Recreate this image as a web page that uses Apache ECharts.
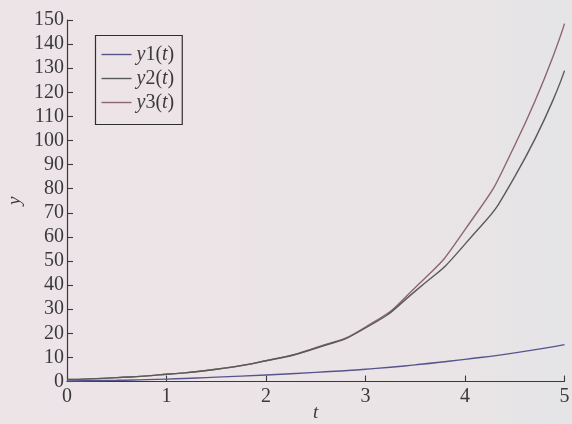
<!DOCTYPE html>
<html>
<head>
<meta charset="utf-8">
<script src="https://cdn.jsdelivr.net/npm/echarts@6/dist/echarts.min.js"></script>
<style>
  html, body { margin: 0; padding: 0; }
  #chart { width: 572px; height: 424px; }
</style>
</head>
<body>
<div id="chart"></div>
<script>
// Solution samples of the three components on 0 <= t <= 5
const tValues = [0, 0.5, 1, 1.5, 2, 2.5, 3, 3.5, 4, 4.5, 5];
const y1Values = [0.2, 0.5, 1.0, 1.8, 2.7, 3.8, 5.1, 6.9, 9.2, 11.9, 15.3];
const y2Values = [0.8, 1.6, 3.0, 5.1, 8.6, 13.8, 22.2, 37.5, 57, 85, 129];
const y3Values = [0.8, 1.6, 3.0, 5.1, 8.6, 14.0, 22.6, 39, 63, 98, 148.5];

const seriesNames = ['y1', 'y2', 'y3'];
const seriesColors = ['#55558c', '#585b59', '#8c6670'];
const xTicks = [0, 1, 2, 3, 4, 5];
const yTickStep = 10;

const serif = '"Liberation Serif", "DejaVu Serif", serif';
const ink = '#3a3a3c';

function pairs(ys) {
  return tValues.map((t, i) => [t, ys[i]]);
}

const chart = echarts.init(document.getElementById('chart'), null, { renderer: 'canvas' });

const allValues = [y1Values, y2Values, y3Values];

chart.setOption({
  backgroundColor: {
    type: 'linear', x: 0, y: 0, x2: 1, y2: 0,
    colorStops: [
      { offset: 0, color: '#ede4e8' },
      { offset: 0.7, color: '#ebe4e7' },
      { offset: 1, color: '#e5e4e6' }
    ]
  },
  animation: false,
  grid: {
    left: 67, right: 7.5, top: 20, bottom: 42.5,
    containLabel: false,
    outerBoundsMode: 'none'
  },
  legend: {
    orient: 'vertical',
    left: 95.5,
    top: 35.5,
    padding: [7, 8, 10, 6],
    itemGap: 0,
    itemWidth: 30,
    itemHeight: 1.4,
    icon: 'rect',
    borderColor: '#2e2e30',
    borderWidth: 1.2,
    data: seriesNames,
    formatter: name => '{i|y}{n|' + name.slice(1) + '(}{i|t}{n|)}',
    textStyle: {
      color: ink,
      lineHeight: 24,
      rich: {
        i: { fontFamily: serif, fontStyle: 'italic', fontSize: 20, color: ink, lineHeight: 24 },
        n: { fontFamily: serif, fontSize: 20, color: ink, lineHeight: 24 }
      }
    }
  },
  xAxis: {
    type: 'value',
    min: 0,
    max: 5,
    interval: 1,
    name: 't',
    nameLocation: 'middle',
    nameGap: 22,
    nameMoveOverlap: false,
    nameTextStyle: { fontFamily: serif, fontStyle: 'italic', fontSize: 19, color: ink },
    axisLine: { show: true, lineStyle: { color: ink, width: 1.2 } },
    axisTick: { show: true, inside: true, length: 6, lineStyle: { color: ink, width: 1.1 } },
    axisLabel: {
      fontFamily: serif, fontSize: 20, color: ink, margin: 5,
      formatter: v => (xTicks.includes(v) ? String(v) : '')
    },
    splitLine: { show: false }
  },
  yAxis: {
    type: 'value',
    min: 0,
    max: 150,
    interval: yTickStep,
    name: 'y',
    nameLocation: 'middle',
    nameGap: 43,
    nameMoveOverlap: false,
    nameRotate: 90,
    nameTextStyle: { fontFamily: serif, fontStyle: 'italic', fontSize: 19, color: ink },
    axisLine: { show: true, lineStyle: { color: ink, width: 1.2 } },
    axisTick: { show: true, inside: true, length: 6, lineStyle: { color: ink, width: 1.1 } },
    axisLabel: { fontFamily: serif, fontSize: 20, color: ink, margin: 3 },
    splitLine: { show: false }
  },
  series: seriesNames.map((name, k) => ({
    name: name,
    type: 'line',
    data: pairs(allValues[k]),
    smooth: 0.6,
    showSymbol: false,
    symbol: 'none',
    clip: true,
    lineStyle: { color: seriesColors[k], width: 1.4 },
    itemStyle: { color: seriesColors[k] },
    z: 3 - k
  }))
});
</script>
</body>
</html>
